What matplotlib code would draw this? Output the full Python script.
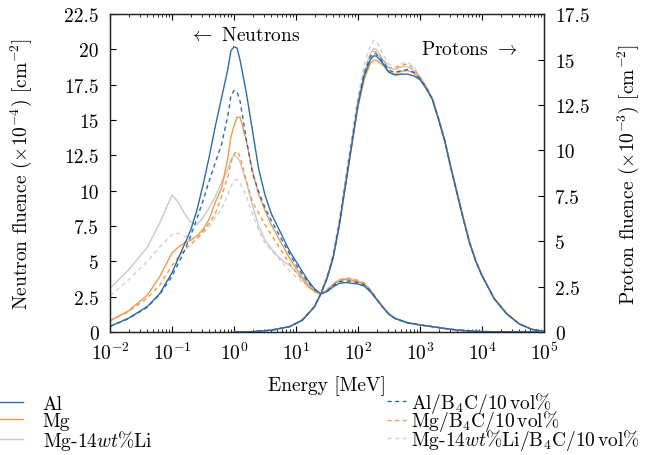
import numpy as np
import matplotlib
matplotlib.use("Agg")
import matplotlib.pyplot as plt
from matplotlib.ticker import FuncFormatter, FixedLocator

plt.rcParams['font.family'] = 'serif'
plt.rcParams['font.serif'] = ['cmr10', 'DejaVu Serif']
plt.rcParams['mathtext.fontset'] = 'cm'
plt.rcParams['axes.formatter.use_mathtext'] = True
plt.rcParams['axes.unicode_minus'] = False
plt.rcParams['font.size'] = 14

# ---------------- data ----------------
# neutron energy grid (log10 of MeV)
n_logE = [-2.0, -1.7, -1.4, -1.2, -1.0, -0.9, -0.8, -0.7, -0.6, -0.5, -0.4, -0.3,
          -0.2, -0.1, -0.05, 0.0, 0.05, 0.1, 0.2, 0.3, 0.4, 0.5, 0.6, 0.7, 0.8,
          0.9, 1.0, 1.1, 1.2, 1.3, 1.4, 1.5, 1.6, 1.7, 1.8, 1.9, 2.0, 2.1, 2.2,
          2.3, 2.4, 2.5, 2.6, 2.8, 3.0, 3.2, 3.4, 3.6, 3.8, 4.0, 4.5, 5.0]

n_al = [0.4, 0.98, 1.8, 2.7, 4.2, 5.2, 6.2, 7.2, 8.6, 10.4, 12.4, 14.6,
        16.6, 18.6, 19.9, 20.2, 20.1, 19.2, 16.9, 14.2, 11.5, 9.7, 8.4, 7.5, 6.6,
        5.7, 5.0, 4.3, 3.6, 3.05, 2.7, 2.85, 3.2, 3.45, 3.5, 3.45, 3.4, 3.25, 2.85,
        2.3, 1.75, 1.25, 0.95, 0.65, 0.5, 0.38, 0.25, 0.14, 0.07, 0.03, 0.01, 0.0]
n_mg = [0.8, 1.5, 2.6, 3.9, 5.6, 6.0, 6.3, 6.5, 6.8, 7.25, 8.0, 9.2,
        10.2, 12.3, 13.8, 14.6, 15.2, 15.2, 13.5, 11.4, 9.7, 8.6, 7.6, 6.8, 6.0,
        5.2, 4.5, 3.9, 3.3, 2.9, 2.7, 2.95, 3.35, 3.65, 3.72, 3.65, 3.55, 3.4, 2.95,
        2.35, 1.78, 1.27, 0.96, 0.66, 0.5, 0.38, 0.25, 0.14, 0.07, 0.03, 0.01, 0.0]
n_li = [3.1, 4.4, 6.0, 7.7, 9.7, 9.2, 8.4, 7.8, 7.6, 8.1, 8.8, 9.6,
        10.6, 11.5, 12.2, 12.5, 12.4, 12.0, 10.6, 8.9, 7.5, 6.5, 5.9, 5.4, 5.0,
        4.7, 4.25, 3.75, 3.2, 2.85, 2.7, 2.95, 3.35, 3.65, 3.75, 3.7, 3.6, 3.45, 2.95,
        2.35, 1.78, 1.27, 0.96, 0.66, 0.5, 0.38, 0.25, 0.14, 0.07, 0.03, 0.01, 0.0]
n_al_b4c = [0.4, 0.95, 1.75, 2.65, 3.95, 4.85, 5.75, 6.8, 8.0, 9.3, 10.7, 12.0,
            13.3, 15.3, 16.7, 17.1, 17.0, 16.3, 13.6, 11.2, 9.9, 8.8, 7.9, 7.1, 6.3,
            5.5, 4.75, 4.1, 3.5, 3.0, 2.7, 2.9, 3.3, 3.55, 3.62, 3.58, 3.5, 3.35, 2.92,
            2.33, 1.76, 1.26, 0.95, 0.65, 0.5, 0.38, 0.25, 0.14, 0.07, 0.03, 0.01, 0.0]
n_mg_b4c = [0.8, 1.45, 2.4, 3.3, 4.7, 5.3, 5.8, 6.2, 6.6, 7.1, 7.7, 8.4,
            9.6, 11.0, 12.0, 12.6, 12.8, 12.4, 10.7, 9.2, 8.4, 7.6, 6.9, 6.2, 5.5,
            4.8, 4.25, 3.7, 3.2, 2.85, 2.7, 3.0, 3.4, 3.72, 3.82, 3.78, 3.65, 3.48, 3.0,
            2.38, 1.8, 1.28, 0.97, 0.67, 0.5, 0.38, 0.25, 0.14, 0.07, 0.03, 0.01, 0.0]
n_li_b4c = [2.58, 3.7, 5.0, 6.0, 6.9, 7.0, 6.8, 6.65, 6.6, 7.0, 7.45, 8.1,
            8.7, 9.7, 10.3, 10.7, 10.8, 10.5, 9.6, 8.3, 7.2, 6.3, 5.8, 5.3, 4.8,
            4.3, 3.9, 3.55, 3.15, 2.85, 2.7, 3.0, 3.4, 3.7, 3.8, 3.76, 3.62, 3.46, 2.98,
            2.37, 1.79, 1.28, 0.97, 0.67, 0.5, 0.38, 0.25, 0.14, 0.07, 0.03, 0.01, 0.0]

# proton energy grid (log10 of MeV)
p_logE = [0.0, 0.3, 0.6, 0.9, 1.1, 1.3, 1.4, 1.5, 1.6, 1.7, 1.8, 1.9, 2.0, 2.1,
          2.2, 2.25, 2.3, 2.4, 2.5, 2.6, 2.7, 2.8, 2.9, 3.0, 3.1, 3.2, 3.3, 3.4,
          3.5, 3.6, 3.7, 3.8, 3.9, 4.0, 4.2, 4.4, 4.6, 4.8, 5.0]

p_al = [0.0, 0.02, 0.1, 0.3, 0.65, 1.4, 2.1, 2.95, 4.1, 5.9, 8.1, 10.3, 12.5, 14.1,
        15.0, 15.2, 15.2, 14.8, 14.3, 14.15, 14.2, 14.2, 14.1, 13.9, 13.4, 12.8, 11.7, 10.5,
        9.0, 7.6, 6.2, 4.9, 3.9, 3.1, 1.82, 1.0, 0.45, 0.15, 0.03]
p_mg = [0.0, 0.02, 0.1, 0.3, 0.65, 1.4, 2.1, 2.95, 4.1, 5.9, 8.1, 10.3, 12.4, 13.9,
        14.8, 14.95, 14.95, 14.7, 14.3, 14.2, 14.35, 14.4, 14.25, 13.95, 13.45, 12.85, 11.75, 10.55,
        9.05, 7.65, 6.25, 4.95, 3.92, 3.12, 1.83, 1.0, 0.45, 0.15, 0.03]
p_li = [0.0, 0.02, 0.1, 0.3, 0.65, 1.4, 2.1, 3.0, 4.2, 6.05, 8.3, 10.5, 12.7, 14.35,
        15.35, 15.6, 15.55, 15.0, 14.55, 14.45, 14.6, 14.6, 14.4, 14.0, 13.5, 12.85, 11.75, 10.55,
        9.05, 7.65, 6.25, 4.95, 3.92, 3.12, 1.83, 1.0, 0.45, 0.15, 0.03]
p_al_b4c = [0.0, 0.02, 0.1, 0.3, 0.65, 1.4, 2.1, 2.95, 4.15, 5.95, 8.2, 10.4, 12.6, 14.2,
            15.15, 15.35, 15.3, 14.9, 14.4, 14.3, 14.4, 14.45, 14.3, 13.95, 13.45, 12.8, 11.7, 10.5,
            9.0, 7.6, 6.2, 4.9, 3.9, 3.1, 1.82, 1.0, 0.45, 0.15, 0.03]
p_mg_b4c = [0.0, 0.02, 0.1, 0.3, 0.65, 1.4, 2.1, 3.0, 4.2, 6.05, 8.3, 10.5, 12.7, 14.3,
            15.25, 15.45, 15.4, 15.0, 14.55, 14.5, 14.7, 14.75, 14.5, 14.05, 13.5, 12.85, 11.75, 10.55,
            9.05, 7.65, 6.25, 4.95, 3.92, 3.12, 1.83, 1.0, 0.45, 0.15, 0.03]
p_li_b4c = [0.0, 0.02, 0.1, 0.3, 0.66, 1.42, 2.15, 3.1, 4.35, 6.25, 8.55, 10.8, 13.0, 14.7,
            15.8, 16.05, 16.0, 15.3, 14.75, 14.6, 14.8, 14.85, 14.6, 14.1, 13.55, 12.9, 11.8, 10.6,
            9.1, 7.7, 6.3, 5.0, 3.95, 3.15, 1.85, 1.02, 0.46, 0.15, 0.03]

labels = ['Al', 'Mg', r'Mg-14$wt$%Li',
          r'Al/B$_4$C/10$\,$vol%', r'Mg/B$_4$C/10$\,$vol%', r'Mg-14$wt$%Li/B$_4$C/10$\,$vol%']
colors = ['#2c6aab', '#ef9a4a', '#c8c8c8', '#2c6aab', '#ef9a4a', '#d0d0d0']
styles = ['-', '-', '-', (0, (3, 2.5)), (0, (3, 2.5)), (0, (3, 2.5))]

neutrons = [n_al, n_mg, n_li, n_al_b4c, n_mg_b4c, n_li_b4c]
protons = [p_al, p_mg, p_li, p_al_b4c, p_mg_b4c, p_li_b4c]

left_ticks = [0, 2.5, 5, 7.5, 10, 12.5, 15, 17.5, 20, 22.5]
right_ticks = [0, 2.5, 5, 7.5, 10, 12.5, 15, 17.5]

# ---------------- plot ----------------
fig = plt.figure(figsize=(6.51, 4.56), dpi=100)
ax = fig.add_axes([0.169, 0.2697, 0.6666, 0.697])
ax2 = ax.twinx()
ax2.set_position([0.169, 0.2697, 0.6666, 0.697])

nE = 10 ** np.array(n_logE)
pE = 10 ** np.array(p_logE)

order = [2, 5, 1, 4, 3, 0]
handles = {}
for i in order:
    h, = ax.plot(nE, neutrons[i], color=colors[i], ls=styles[i], lw=1.0, label=labels[i])
    handles[i] = h
    ax2.plot(pE, protons[i], color=colors[i], ls=styles[i], lw=1.0)

ax.set_xscale('log')
ax.set_xlim(1e-2, 1e5)
ax.set_ylim(0, 22.5)
ax2.set_ylim(0, 17.5)
ax.yaxis.set_major_locator(FixedLocator(left_ticks))
ax2.yaxis.set_major_locator(FixedLocator(right_ticks))
fmt = FuncFormatter(lambda v, p: '%g' % v)
ax.yaxis.set_major_formatter(fmt)
ax2.yaxis.set_major_formatter(fmt)

ax.tick_params(axis='both', which='both', direction='in', top=True, right=False)
ax.tick_params(axis='x', which='major', length=4.5, pad=7)
ax.tick_params(axis='x', which='minor', length=2.5)
ax.tick_params(axis='y', which='major', length=4.5, pad=8)
ax2.tick_params(axis='y', which='major', direction='in', length=4.5, pad=8)

for a in (ax, ax2):
    for s in a.spines.values():
        s.set_linewidth(0.9)
        s.set_color('#222222')

ax.set_xlabel('Energy [MeV]', labelpad=9)
ax.set_ylabel(r'Neutron fluence $(\times 10^{-4})$ [cm$^{-2}$]', labelpad=22)
ax2.set_ylabel(r'Proton fluence $(\times 10^{-3})$ [cm$^{-2}$]', labelpad=19)

ax.text(0.311, 0.934, r'$\leftarrow$ Neutrons', transform=ax.transAxes, ha='center', va='center')
ax.text(0.827, 0.89, r'Protons $\rightarrow$', transform=ax.transAxes, ha='center', va='center')

leg1 = fig.legend([handles[i] for i in range(3)], labels[:3], loc='upper left',
                  bbox_to_anchor=(0.0, 0.131), frameon=False,
                  handlelength=1.2, handletextpad=1.0, labelspacing=-0.08,
                  borderaxespad=0, borderpad=0)
leg2 = fig.legend([handles[i] for i in range(3, 6)], labels[3:], loc='upper left',
                  bbox_to_anchor=(0.594, 0.143), frameon=False,
                  handlelength=1.0, handletextpad=0.25, labelspacing=-0.33,
                  borderaxespad=0, borderpad=0)

fig.savefig('out.png', dpi=100)
